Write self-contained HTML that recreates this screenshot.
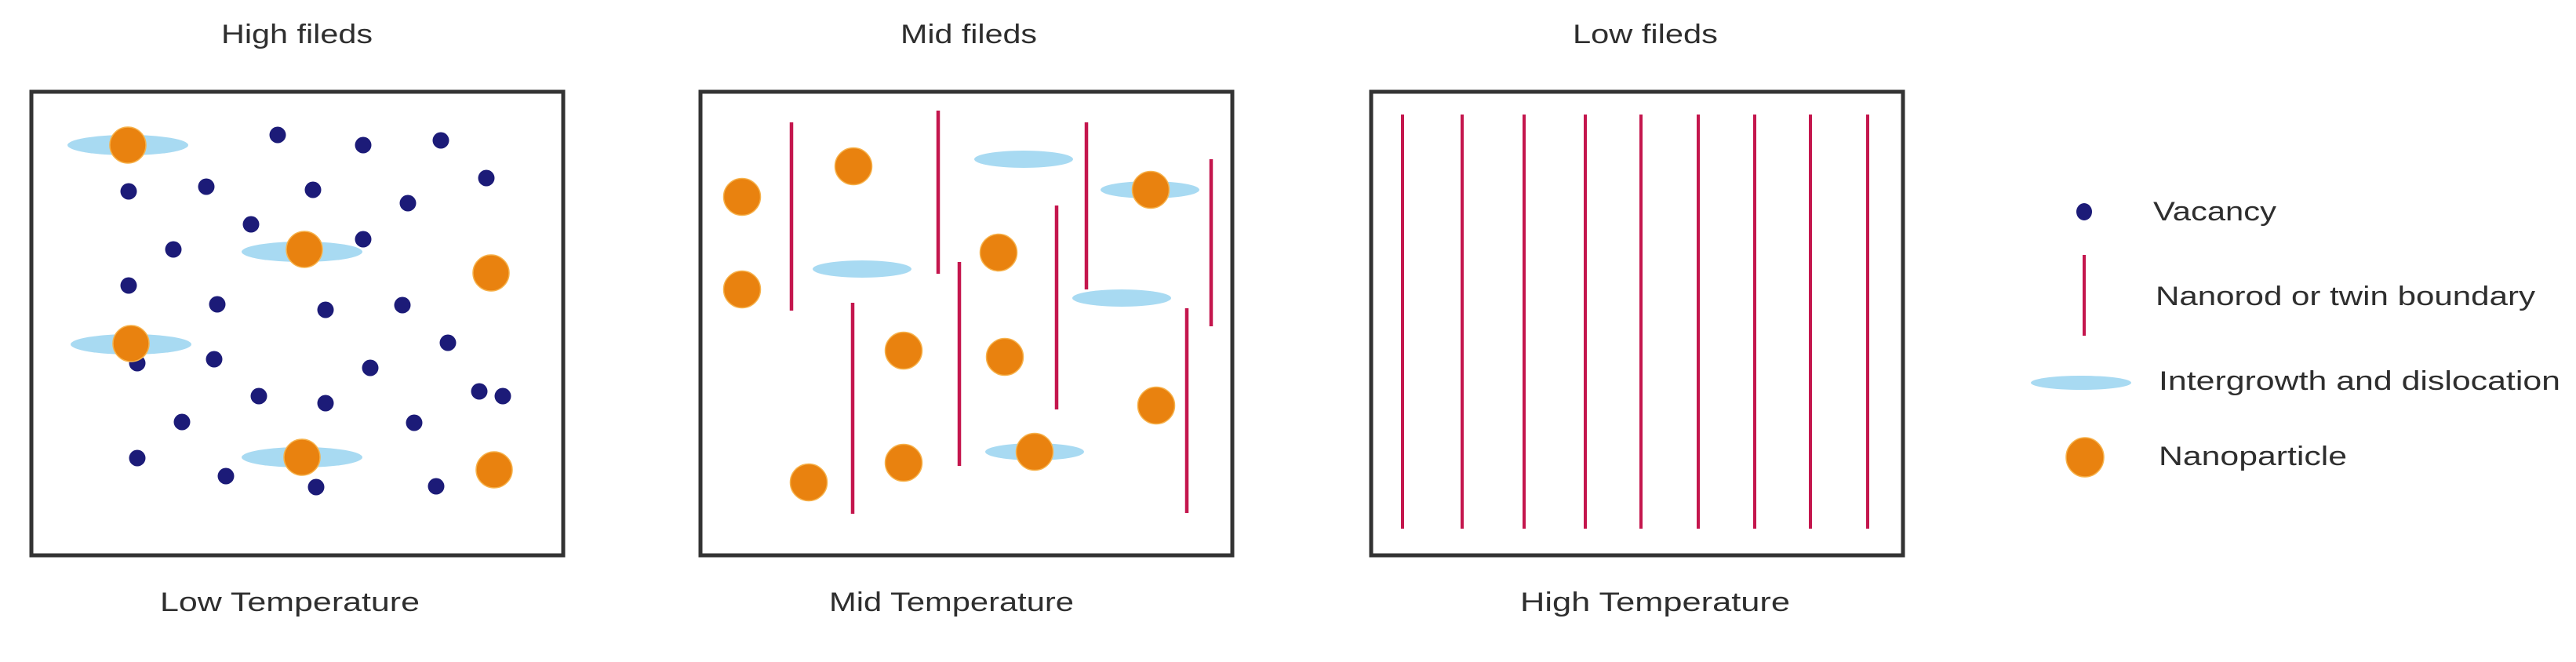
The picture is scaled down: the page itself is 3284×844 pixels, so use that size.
<!DOCTYPE html>
<html><head><meta charset="utf-8"><style>html,body{margin:0;padding:0;background:#fff}svg{display:block}</style></head>
<body>
<svg width="3284" height="844" viewBox="0 0 3284 844" xmlns="http://www.w3.org/2000/svg" font-family="Liberation Sans, Arial, sans-serif" font-size="34" fill="#2e2e2e">
<g fill="#2e2e2e" dominant-baseline="central">
<text x="282" y="44" textLength="193" lengthAdjust="spacingAndGlyphs">High fileds</text>
<text x="204" y="768" textLength="331" lengthAdjust="spacingAndGlyphs">Low Temperature</text>
<text x="1148" y="44" textLength="174" lengthAdjust="spacingAndGlyphs">Mid fileds</text>
<text x="1057" y="768" textLength="312" lengthAdjust="spacingAndGlyphs">Mid Temperature</text>
<text x="2005" y="44" textLength="185" lengthAdjust="spacingAndGlyphs">Low fileds</text>
<text x="1938" y="768" textLength="344" lengthAdjust="spacingAndGlyphs">High Temperature</text>
<text x="2745" y="270" textLength="157" lengthAdjust="spacingAndGlyphs">Vacancy</text>
<text x="2748" y="378" textLength="484" lengthAdjust="spacingAndGlyphs">Nanorod or twin boundary</text>
<text x="2752" y="486" textLength="512" lengthAdjust="spacingAndGlyphs">Intergrowth and dislocation</text>
<text x="2752" y="582" textLength="240" lengthAdjust="spacingAndGlyphs">Nanoparticle</text>
</g>
<g fill="none" stroke="#333" stroke-width="5">
<rect x="40" y="117" width="678" height="591"/>
<rect x="893" y="117" width="678" height="591"/>
<rect x="1748" y="117" width="678" height="591"/>
</g>
<!-- panel 1 -->
<g fill="#a8daf2">
<ellipse cx="163" cy="185" rx="77" ry="13"/>
<ellipse cx="385" cy="321" rx="77" ry="13"/>
<ellipse cx="167" cy="439" rx="77" ry="13"/>
<ellipse cx="385" cy="583" rx="77" ry="13"/>
</g>
<g fill="#1c1b78">
<circle cx="354" cy="172" r="10.5"/><circle cx="463" cy="185" r="10.5"/><circle cx="562" cy="179" r="10.5"/>
<circle cx="620" cy="227" r="10.5"/><circle cx="164" cy="244" r="10.5"/><circle cx="263" cy="238" r="10.5"/>
<circle cx="399" cy="242" r="10.5"/><circle cx="520" cy="259" r="10.5"/><circle cx="320" cy="286" r="10.5"/>
<circle cx="463" cy="305" r="10.5"/><circle cx="221" cy="318" r="10.5"/><circle cx="164" cy="364" r="10.5"/>
<circle cx="277" cy="388" r="10.5"/><circle cx="415" cy="395" r="10.5"/><circle cx="513" cy="389" r="10.5"/>
<circle cx="571" cy="437" r="10.5"/><circle cx="175" cy="463" r="10.5"/><circle cx="273" cy="458" r="10.5"/>
<circle cx="472" cy="469" r="10.5"/><circle cx="330" cy="505" r="10.5"/><circle cx="415" cy="514" r="10.5"/>
<circle cx="611" cy="499" r="10.5"/><circle cx="641" cy="505" r="10.5"/><circle cx="232" cy="538" r="10.5"/>
<circle cx="528" cy="539" r="10.5"/><circle cx="175" cy="584" r="10.5"/><circle cx="288" cy="607" r="10.5"/>
<circle cx="403" cy="621" r="10.5"/><circle cx="556" cy="620" r="10.5"/>
</g>
<g fill="#e9820f" stroke="#f6b14a" stroke-width="1.5">
<circle cx="163" cy="185" r="23"/><circle cx="388" cy="318" r="23"/><circle cx="626" cy="348" r="23"/>
<circle cx="167" cy="438" r="23"/><circle cx="385" cy="583" r="23"/><circle cx="630" cy="599" r="23"/>
</g>
<!-- panel 2 -->
<g stroke="#c4164d" stroke-width="4.5">
<line x1="1009" y1="156" x2="1009" y2="396"/>
<line x1="1196" y1="141" x2="1196" y2="349"/>
<line x1="1385" y1="156" x2="1385" y2="369"/>
<line x1="1544" y1="203" x2="1544" y2="416"/>
<line x1="1347" y1="262" x2="1347" y2="522"/>
<line x1="1223" y1="334" x2="1223" y2="594"/>
<line x1="1087" y1="386" x2="1087" y2="655"/>
<line x1="1513" y1="393" x2="1513" y2="654"/>
</g>
<g fill="#a8daf2">
<ellipse cx="1305" cy="203" rx="63" ry="11"/>
<ellipse cx="1099" cy="343" rx="63" ry="11"/>
<ellipse cx="1430" cy="380" rx="63" ry="11"/>
<ellipse cx="1466" cy="242" rx="63" ry="11"/>
<ellipse cx="1319" cy="576" rx="63" ry="11"/>
</g>
<g fill="#e9820f" stroke="#f6b14a" stroke-width="1.5">
<circle cx="946" cy="251" r="23.5"/><circle cx="1088" cy="212" r="23.5"/><circle cx="946" cy="369" r="23.5"/>
<circle cx="1273" cy="322" r="23.5"/><circle cx="1467" cy="242" r="23.5"/><circle cx="1152" cy="447" r="23.5"/>
<circle cx="1281" cy="455" r="23.5"/><circle cx="1474" cy="517" r="23.5"/><circle cx="1152" cy="590" r="23.5"/>
<circle cx="1319" cy="576" r="23.5"/><circle cx="1031" cy="615" r="23.5"/>
</g>
<!-- panel 3 -->
<g stroke="#c4164d" stroke-width="4">
<line x1="1788" y1="146" x2="1788" y2="674"/>
<line x1="1864" y1="146" x2="1864" y2="674"/>
<line x1="1943" y1="146" x2="1943" y2="674"/>
<line x1="2021" y1="146" x2="2021" y2="674"/>
<line x1="2092" y1="146" x2="2092" y2="674"/>
<line x1="2165" y1="146" x2="2165" y2="674"/>
<line x1="2237" y1="146" x2="2237" y2="674"/>
<line x1="2308" y1="146" x2="2308" y2="674"/>
<line x1="2381" y1="146" x2="2381" y2="674"/>
</g>
<!-- legend -->
<ellipse cx="2657" cy="270" rx="10" ry="11" fill="#1c1b78"/>
<line x1="2657" y1="325" x2="2657" y2="428" stroke="#c4164d" stroke-width="4"/>
<ellipse cx="2653" cy="488" rx="64" ry="9" fill="#a8daf2"/>
<ellipse cx="2658" cy="583" rx="24" ry="25" fill="#e9820f" stroke="#f6b14a" stroke-width="1.5"/>
</svg>
</body></html>
